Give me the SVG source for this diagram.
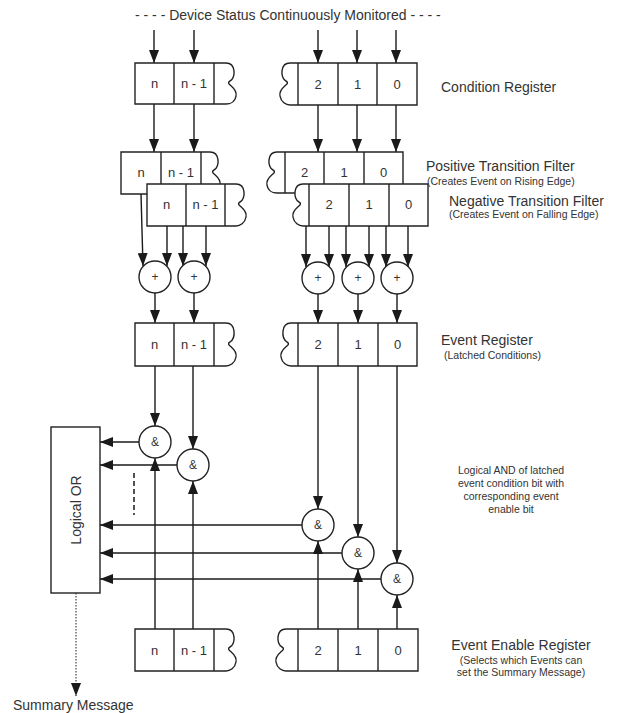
<svg xmlns="http://www.w3.org/2000/svg" width="621" height="713" viewBox="0 0 621 713">
<defs>
<marker id="ah" viewBox="0 0 13 10" refX="13" refY="5" markerWidth="13" markerHeight="10" markerUnits="userSpaceOnUse" orient="auto">
<path d="M0,0 L13,5 L0,10 Z" fill="#1a1a1a"/>
</marker>
</defs>
<style>
.reg{fill:#fff;stroke:#222;stroke-width:1.4}
.div{stroke:#222;stroke-width:1.4}
.cell{font-family:"Liberation Sans",Arial,sans-serif;font-size:13px;fill:#333;text-anchor:middle}
.lbl{font-family:"Liberation Sans",Arial,sans-serif;font-size:14px;fill:#333}
.sub{font-family:"Liberation Sans",Arial,sans-serif;font-size:10.5px;fill:#333}
.gate{fill:#fff;stroke:#222;stroke-width:1.4}
.gt{font-family:"Liberation Sans",Arial,sans-serif;font-size:12px;fill:#333;text-anchor:middle}
.ar{stroke:#1a1a1a;stroke-width:1.4;fill:none;marker-end:url(#ah)}
.ln{stroke:#1a1a1a;stroke-width:1.4;fill:none}
</style>

<text class="lbl" x="135" y="20">- - - - Device Status Continuously Monitored - - - -</text>

<g id="connectors">
<!-- inputs to condition register -->
<line class="ar" x1="154" y1="30" x2="154" y2="63"/>
<line class="ar" x1="194" y1="30" x2="194" y2="63"/>
<line class="ar" x1="318" y1="30" x2="318" y2="63"/>
<line class="ar" x1="357" y1="30" x2="357" y2="63"/>
<line class="ar" x1="396" y1="30" x2="396" y2="63"/>
<!-- condition to positive filter -->
<line class="ar" x1="154" y1="104" x2="154" y2="152"/>
<line class="ar" x1="194" y1="104" x2="194" y2="152"/>
<line class="ar" x1="318" y1="105" x2="318" y2="152"/>
<line class="ar" x1="357" y1="105" x2="357" y2="152"/>
<line class="ar" x1="396" y1="105" x2="396" y2="152"/>
<!-- filters to plus -->
<line class="ar" x1="141" y1="194" x2="143" y2="266"/>
<line class="ar" x1="167" y1="226" x2="167" y2="266"/>
<line class="ar" x1="183" y1="226" x2="183" y2="266"/>
<line class="ar" x1="206" y1="226" x2="206" y2="266"/>
<line class="ar" x1="306" y1="226" x2="306" y2="267"/>
<line class="ar" x1="329" y1="226" x2="329" y2="267"/>
<line class="ar" x1="346" y1="226" x2="346" y2="267"/>
<line class="ar" x1="369" y1="226" x2="369" y2="267"/>
<line class="ar" x1="386" y1="226" x2="386" y2="267"/>
<line class="ar" x1="408" y1="226" x2="408" y2="267"/>
<!-- plus to event register -->
<line class="ar" x1="155" y1="293" x2="155" y2="323"/>
<line class="ar" x1="194" y1="293" x2="194" y2="323"/>
<line class="ar" x1="318" y1="294" x2="318" y2="323"/>
<line class="ar" x1="358" y1="294" x2="358" y2="323"/>
<line class="ar" x1="397" y1="294" x2="397" y2="323"/>
<!-- event register to gates -->
<line class="ar" x1="155" y1="366" x2="155" y2="426"/>
<line class="ar" x1="193" y1="366" x2="193" y2="449"/>
<line class="ar" x1="318" y1="366" x2="318" y2="509"/>
<line class="ar" x1="358" y1="366" x2="358" y2="537"/>
<line class="ar" x1="397" y1="366" x2="397" y2="563"/>
<!-- enable register to gates -->
<line class="ar" x1="155" y1="629" x2="155" y2="458"/>
<line class="ar" x1="193" y1="629" x2="193" y2="481"/>
<line class="ar" x1="318" y1="629" x2="318" y2="541"/>
<line class="ar" x1="358" y1="629" x2="358" y2="569"/>
<line class="ar" x1="397" y1="629" x2="397" y2="595"/>
<!-- gates to OR -->
<line class="ar" x1="139" y1="442" x2="100" y2="442"/>
<line class="ar" x1="177" y1="465" x2="100" y2="465"/>
<line class="ar" x1="302" y1="525" x2="100" y2="525"/>
<line class="ar" x1="342" y1="553" x2="100" y2="553"/>
<line class="ar" x1="381" y1="579" x2="100" y2="579"/>
<!-- dashed ellipsis -->
<line x1="134" y1="473" x2="134" y2="515" stroke="#1a1a1a" stroke-width="1.5" stroke-dasharray="5,3"/>
<!-- summary -->
<line x1="76" y1="593" x2="76" y2="696" stroke="#1a1a1a" stroke-width="1" stroke-dasharray="1.5,1.5" marker-end="url(#ah)"/>
</g>

<g id="condition-register-left">
<path class="reg" d="M135,63 H226 C236,63 236,78 230,81 C224,84 238,87 236,96 C235,102 230,104 226,104 H135 Z"/>
<line class="div" x1="174" y1="63" x2="174" y2="104"/>
<line class="div" x1="214" y1="63" x2="214" y2="104"/>
<text class="cell" x="154.5" y="88">n</text>
<text class="cell" x="194" y="88">n - 1</text>
</g>
<g id="condition-register-right">
<path class="reg" d="M417,63 H290 C280,63 280,78 286,81 C292,84 278,87 280,96 C281,102 286,105 290,105 H417 Z"/>
<line class="div" x1="298" y1="63" x2="298" y2="105"/>
<line class="div" x1="338" y1="63" x2="338" y2="105"/>
<line class="div" x1="377" y1="63" x2="377" y2="105"/>
<text class="cell" x="318" y="89">2</text>
<text class="cell" x="357.5" y="89">1</text>
<text class="cell" x="397" y="89">0</text>
</g>
<text class="lbl" x="441" y="92">Condition Register</text>

<g id="positive-filter-left">
<path class="reg" d="M121,152 H210 C220,152 220,167 214,170 C208,173 222,176 220,185 C219,191 214,194 210,194 H121 Z"/>
<line class="div" x1="161" y1="152" x2="161" y2="194"/>
<line class="div" x1="201" y1="152" x2="201" y2="194"/>
<text class="cell" x="141" y="177">n</text>
<text class="cell" x="181" y="177">n - 1</text>
</g>
<g id="positive-filter-right">
<path class="reg" d="M403,152 H277 C267,152 267,167 273,170 C279,173 265,176 267,185 C268,191 273,193 277,193 H403 Z"/>
<line class="div" x1="285" y1="152" x2="285" y2="193"/>
<line class="div" x1="324" y1="152" x2="324" y2="193"/>
<line class="div" x1="364" y1="152" x2="364" y2="193"/>
<text class="cell" x="304.5" y="177">2</text>
<text class="cell" x="344" y="177">1</text>
<text class="cell" x="383.5" y="177">0</text>
</g>
<g id="negative-filter-left">
<path class="reg" d="M147,184 H236 C246,184 246,199 240,202 C234,205 248,208 246,217 C245,223 240,226 236,226 H147 Z"/>
<line class="div" x1="186" y1="184" x2="186" y2="226"/>
<line class="div" x1="225" y1="184" x2="225" y2="226"/>
<text class="cell" x="166.5" y="209">n</text>
<text class="cell" x="205.5" y="209">n - 1</text>
</g>
<g id="negative-filter-right">
<path class="reg" d="M428,184 H303 C293,184 293,199 299,202 C305,205 291,208 293,217 C294,223 299,226 303,226 H428 Z"/>
<line class="div" x1="309" y1="184" x2="309" y2="226"/>
<line class="div" x1="349" y1="184" x2="349" y2="226"/>
<line class="div" x1="389" y1="184" x2="389" y2="226"/>
<text class="cell" x="329" y="209">2</text>
<text class="cell" x="369" y="209">1</text>
<text class="cell" x="408.5" y="209">0</text>
</g>
<text class="lbl" x="426" y="171">Positive Transition Filter</text>
<text class="sub" x="427" y="185">(Creates Event on Rising Edge)</text>
<text class="lbl" x="449" y="206">Negative Transition Filter</text>
<text class="sub" x="449" y="218">(Creates Event on Falling Edge)</text>

<g id="plus-n"><circle class="gate" cx="155" cy="277" r="16"/><text class="gt" x="155" y="281">+</text></g>
<g id="plus-n1"><circle class="gate" cx="194" cy="277" r="16"/><text class="gt" x="194" y="281">+</text></g>
<g id="plus-2"><circle class="gate" cx="318" cy="278" r="16"/><text class="gt" x="318" y="282">+</text></g>
<g id="plus-1"><circle class="gate" cx="358" cy="278" r="16"/><text class="gt" x="358" y="282">+</text></g>
<g id="plus-0"><circle class="gate" cx="397" cy="278" r="16"/><text class="gt" x="397" y="282">+</text></g>

<g id="event-register-left">
<path class="reg" d="M135,323 H226 C236,323 236,338 230,342 C224,345 238,348 236,357 C235,363 230,366 226,366 H135 Z"/>
<line class="div" x1="174" y1="323" x2="174" y2="366"/>
<line class="div" x1="214" y1="323" x2="214" y2="366"/>
<text class="cell" x="154.5" y="349">n</text>
<text class="cell" x="194" y="349">n - 1</text>
</g>
<g id="event-register-right">
<path class="reg" d="M417,323 H291 C281,323 281,338 287,342 C293,345 279,348 281,357 C282,363 287,366 291,366 H417 Z"/>
<line class="div" x1="298" y1="323" x2="298" y2="366"/>
<line class="div" x1="338" y1="323" x2="338" y2="366"/>
<line class="div" x1="378" y1="323" x2="378" y2="366"/>
<text class="cell" x="318" y="349">2</text>
<text class="cell" x="358" y="349">1</text>
<text class="cell" x="397.5" y="349">0</text>
</g>
<text class="lbl" x="441" y="345">Event Register</text>
<text class="sub" x="444" y="359">(Latched Conditions)</text>

<g id="and-n"><circle class="gate" cx="155" cy="442" r="16"/><text class="gt" x="155" y="446">&amp;</text></g>
<g id="and-n1"><circle class="gate" cx="193" cy="465" r="16"/><text class="gt" x="193" y="469">&amp;</text></g>
<g id="and-2"><circle class="gate" cx="318" cy="525" r="16"/><text class="gt" x="318" y="529">&amp;</text></g>
<g id="and-1"><circle class="gate" cx="358" cy="553" r="16"/><text class="gt" x="358" y="557">&amp;</text></g>
<g id="and-0"><circle class="gate" cx="397" cy="579" r="16"/><text class="gt" x="397" y="583">&amp;</text></g>

<g id="logical-or">
<rect class="reg" x="51" y="427" width="49" height="166"/>
<text class="lbl" x="0" y="0" text-anchor="middle" transform="translate(81,510) rotate(-90)">Logical OR</text>
</g>

<g id="and-note">
<text class="sub" x="511" y="474" text-anchor="middle">Logical AND of latched</text>
<text class="sub" x="511" y="487" text-anchor="middle">event condition bit with</text>
<text class="sub" x="511" y="500" text-anchor="middle">corresponding event</text>
<text class="sub" x="511" y="513" text-anchor="middle">enable bit</text>
</g>

<g id="enable-register-left">
<path class="reg" d="M135,629 H226 C236,629 236,644 230,647 C224,650 238,653 236,662 C235,668 230,671 226,671 H135 Z"/>
<line class="div" x1="174" y1="629" x2="174" y2="671"/>
<line class="div" x1="214" y1="629" x2="214" y2="671"/>
<text class="cell" x="154.5" y="655">n</text>
<text class="cell" x="194" y="655">n - 1</text>
</g>
<g id="enable-register-right">
<path class="reg" d="M418,629 H286 C276,629 276,644 282,647 C288,650 274,653 276,662 C277,668 282,671 286,671 H418 Z"/>
<line class="div" x1="298" y1="629" x2="298" y2="671"/>
<line class="div" x1="338" y1="629" x2="338" y2="671"/>
<line class="div" x1="378" y1="629" x2="378" y2="671"/>
<text class="cell" x="318" y="655">2</text>
<text class="cell" x="358" y="655">1</text>
<text class="cell" x="398" y="655">0</text>
</g>
<text class="lbl" x="521" y="650" text-anchor="middle">Event Enable Register</text>
<text class="sub" x="521" y="664" text-anchor="middle">(Selects which Events can</text>
<text class="sub" x="521" y="676" text-anchor="middle">set the Summary Message)</text>

<text class="lbl" x="13" y="710">Summary Message</text>
</svg>
